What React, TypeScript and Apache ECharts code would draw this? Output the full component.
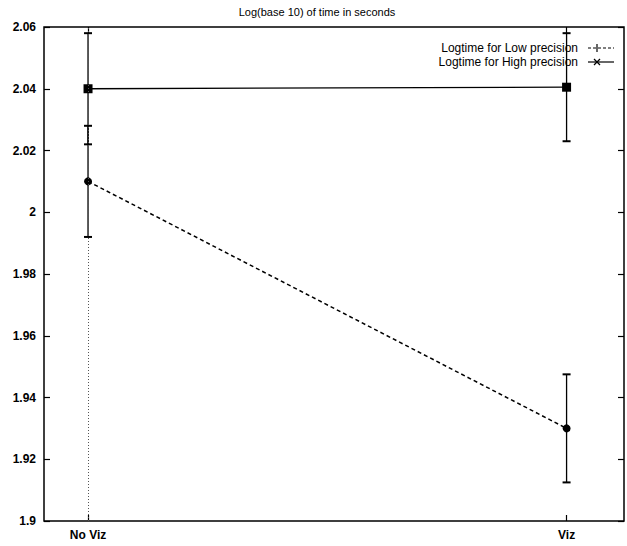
import React, { useEffect, useRef } from "react";
import * as echarts from "echarts";

const categories = ["No Viz", "Viz"];
const lowMean = [2.01, 1.93];
const lowErr = [0.018, 0.0175];
const highMean = [2.04, 2.0405];
const highErr = [0.018, 0.0175];
const yTicks = [1.9, 1.92, 1.94, 1.96, 1.98, 2, 2.02, 2.04, 2.06];
const titleText = "Log(base 10) of time in seconds";
const legendNames = ["Logtime for Low precision", "Logtime for High precision"];

const FONT = "Liberation Sans, Arial, Helvetica, sans-serif";

export default function App() {
  const ref = useRef<HTMLDivElement>(null);
  useEffect(() => {
    if (!ref.current) return;
    const chart = echarts.init(ref.current, null, { renderer: "svg" });
    const xs = categories.map((_, i) => i + 1);
    const lowData = xs.map((x, i) => [x, lowMean[i]]);
    const highData = xs.map((x, i) => [x, highMean[i]]);
    const lowBars = xs.map((x, i) => [x, lowMean[i] - lowErr[i], lowMean[i] + lowErr[i]]);
    const highBars = xs.map((x, i) => [x, highMean[i] - highErr[i], highMean[i] + highErr[i]]);

    const errRender = (params: any, api: any) => {
      const x = api.value(0);
      const p1 = api.coord([x, api.value(1)]);
      const p2 = api.coord([x, api.value(2)]);
      const cap = 4;
      const st = { stroke: "#000", lineWidth: 1.3 };
      return {
        type: "group",
        children: [
          { type: "line", shape: { x1: p1[0], y1: p1[1], x2: p2[0], y2: p2[1] }, style: st },
          { type: "line", shape: { x1: p1[0] - cap, y1: p1[1], x2: p1[0] + cap, y2: p1[1] }, style: { stroke: "#000", lineWidth: 2 } },
          { type: "line", shape: { x1: p2[0] - cap, y1: p2[1], x2: p2[0] + cap, y2: p2[1] }, style: { stroke: "#000", lineWidth: 2 } },
        ],
      };
    };

    const tickLabel = { color: "#000", fontFamily: FONT, fontSize: 12, fontWeight: "bold" as const };

    chart.setOption({
      animation: false,
      backgroundColor: "#fff",
      grid: { left: 44, right: 3, top: 27, bottom: 25, show: true, borderColor: "#000", borderWidth: 1.5, backgroundColor: "transparent" },
      graphic: [
        { type: "text", x: 317, y: 12, style: { text: titleText, fill: "#000", font: `11px ${FONT}`, textAlign: "center", textVerticalAlign: "middle", verticalAlign: "middle" } },
        { type: "text", x: 578, y: 48, style: { text: legendNames[0], fill: "#000", font: `12px ${FONT}`, textAlign: "right", textVerticalAlign: "middle", verticalAlign: "middle" } },
        { type: "text", x: 578, y: 62, style: { text: legendNames[1], fill: "#000", font: `12px ${FONT}`, textAlign: "right", textVerticalAlign: "middle", verticalAlign: "middle" } },
        { type: "line", shape: { x1: 588, y1: 48, x2: 614, y2: 48 }, style: { stroke: "#000", lineWidth: 1.2, lineDash: [3, 2] } },
        { type: "line", shape: { x1: 597, y1: 44, x2: 597, y2: 52 }, style: { stroke: "#000", lineWidth: 1.2 } },
        { type: "line", shape: { x1: 588, y1: 62, x2: 614, y2: 62 }, style: { stroke: "#000", lineWidth: 1.2 } },
        { type: "line", shape: { x1: 594, y1: 59, x2: 600, y2: 65 }, style: { stroke: "#000", lineWidth: 1.2 } },
        { type: "line", shape: { x1: 594, y1: 65, x2: 600, y2: 59 }, style: { stroke: "#000", lineWidth: 1.2 } },
      ],
      xAxis: [
        {
          type: "value",
          min: 0.908,
          max: 2.12,
          position: "bottom",
          axisLine: { show: false },
          splitLine: { show: false },
          axisTick: { show: true, inside: true, length: 6, customValues: xs, lineStyle: { color: "#000", width: 1.2 } },
          axisLabel: { ...tickLabel, margin: 8, customValues: xs, formatter: (v: number) => categories[Math.round(v) - 1] ?? "" },
        },
        {
          type: "value",
          min: 0.908,
          max: 2.12,
          position: "top",
          axisLine: { show: false },
          splitLine: { show: false },
          axisTick: { show: true, inside: true, length: 6, customValues: xs, lineStyle: { color: "#000", width: 1.2 } },
          axisLabel: { show: false },
        },
      ],
      yAxis: [
        {
          type: "value",
          min: 1.9,
          max: 2.06,
          interval: 0.02,
          position: "left",
          axisLine: { show: false },
          splitLine: { show: false },
          axisTick: { show: true, inside: true, length: 6, customValues: yTicks, lineStyle: { color: "#000", width: 1.2 } },
          axisLabel: { ...tickLabel, margin: 8, customValues: yTicks, formatter: (v: number) => String(Math.round(v * 100) / 100) },
        },
        {
          type: "value",
          min: 1.9,
          max: 2.06,
          interval: 0.02,
          position: "right",
          axisLine: { show: false },
          splitLine: { show: false },
          axisTick: { show: true, inside: true, length: 6, customValues: yTicks, lineStyle: { color: "#000", width: 1.2 } },
          axisLabel: { show: false },
        },
      ],
      series: [
        {
          type: "line",
          name: legendNames[0],
          data: lowData,
          symbol: "circle",
          symbolSize: 8,
          itemStyle: { color: "#000" },
          lineStyle: { color: "#000", width: 1.5, type: [4, 3] },
          z: 3,
          markLine: {
            silent: true,
            symbol: "none",
            label: { show: false },
            lineStyle: { color: "#555", width: 1, type: [1, 2] },
            data: [[{ coord: [xs[0], 1.9] }, { coord: [xs[0], 2.06] }]],
          },
        },
        {
          type: "line",
          name: legendNames[1],
          data: highData,
          symbol: "rect",
          symbolSize: 9,
          itemStyle: { color: "#000" },
          lineStyle: { color: "#000", width: 1.3 },
          z: 3,
        },
        { type: "custom", renderItem: errRender, data: lowBars, encode: { x: 0, y: [1, 2] }, z: 2 },
        { type: "custom", renderItem: errRender, data: highBars, encode: { x: 0, y: [1, 2] }, z: 2 },
      ],
    });
    return () => chart.dispose();
  }, []);
  return <div ref={ref} style={{ position: "fixed", left: 0, top: 0, width: 627, height: 546, background: "#fff" }} />;
}
